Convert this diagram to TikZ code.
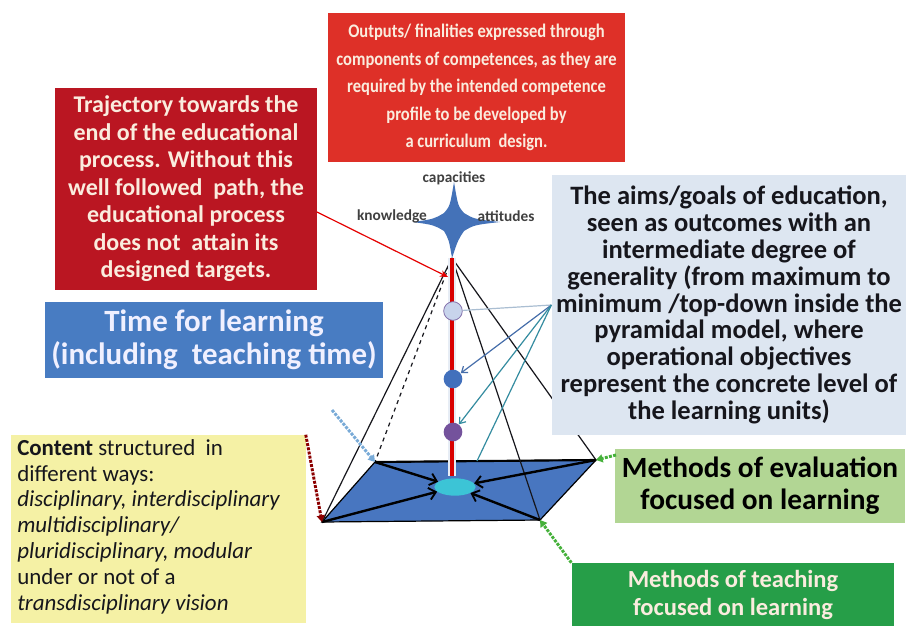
\documentclass[tikz,border=0pt]{standalone}
\usepackage{fontspec}
\setmainfont{Carlito}
\newfontfamily\narrowfont[FakeStretch=0.86]{Carlito}
\usetikzlibrary{arrows.meta,shapes.geometric,positioning}
\definecolor{redtop}{RGB}{222,48,40}
\definecolor{redtraj}{RGB}{186,22,34}
\definecolor{cream}{RGB}{250,236,222}
\definecolor{timeblue}{RGB}{72,124,194}
\definecolor{aimsblue}{RGB}{221,230,241}
\definecolor{contyellow}{RGB}{245,241,165}
\definecolor{evalgreen}{RGB}{178,214,148}
\definecolor{teachgreen}{RGB}{38,158,72}
\definecolor{baseblue}{RGB}{72,118,192}
\definecolor{starblue}{RGB}{68,114,184}
\definecolor{ellcyan}{RGB}{60,196,214}
\definecolor{aimline}{RGB}{52,140,160}
\definecolor{aimpale}{RGB}{170,190,210}
\definecolor{aimmid}{RGB}{70,110,170}
\definecolor{lvlone}{RGB}{200,212,236}
\definecolor{lvlonerim}{RGB}{130,110,170}
\definecolor{lvltwo}{RGB}{66,112,188}
\definecolor{lvlthree}{RGB}{116,82,156}
\definecolor{timedots}{RGB}{120,170,215}
\definecolor{ink}{RGB}{22,22,28}
\newcommand\setfs[2]{\fontsize{#1}{#2}\selectfont}

\begin{document}
\begin{tikzpicture}[x=0.75pt,y=-0.75pt,
  panel/.style={inner sep=0pt,align=center},
  rib/.style={line width=0.9pt,ink},
  hub/.style={-{Straight Barb[length=5pt,width=9pt,line width=1.4pt]},line width=1.8pt,black},
  dotlink/.style={densely dotted,line width=2.2pt,-{Triangle[length=5pt,width=6pt]}},
  aim/.style={line width=0.9pt,-{Straight Barb[length=4pt,width=6pt]}},
  stage/.style={circle,inner sep=0pt,minimum size=14pt,line width=0.6pt},
  starlabel/.style={font=\setfs{11.5}{13}\bfseries,text=black!75}]
 \fill[white] (0,0) rectangle (911,626);
 \useasboundingbox (0,0) rectangle (911,626);
 % corners of the base and tip of the star
 \coordinate (bl) at (375,462);
 \coordinate (br) at (596,460);
 \coordinate (fr) at (540,520);
 \coordinate (fl) at (322,522);
 \coordinate (apex) at (452,258);
 \coordinate (star) at (454,220);
 % base
 \draw[fill=baseblue,line width=0.9pt] (bl) -- (br) -- (fr) -- (fl) -- cycle;
 \draw[line width=1.6pt] (bl) -- (br);
 % pyramid edges
 \draw[rib] (apex) -- (fl);
 \draw[rib,dashed] (apex) -- (bl);
 \draw[rib] (apex) -- (fr);
 \draw[rib] (apex) -- (br);
 % centre of the base
 \node[ellipse,fill=ellcyan,minimum width=31pt,minimum height=13pt,inner sep=0pt] (ell) at (455,487) {};
 \draw[hub] (bl) -- (ell);
 \draw[hub] (fl) -- (ell);
 \draw[hub] (fr) -- (ell);
 \draw[hub] (br) -- (ell);
 % vertical axis
 \coordinate (axisend) at (452,476);
 \draw[line width=6pt,aimsblue!70] (apex) -- (axisend);
 \draw[line width=2.6pt,red!85!black] (apex) -- (axisend);
 % levels on the axis
 \node[stage,fill=lvlone,draw=lvlonerim] (c1) at (453,311) {};
 \node[stage,fill=lvltwo] (c2) at (453,379) {};
 \node[stage,fill=lvlthree] (c3) at (453,432) {};
 % star of competences
 \fill[starblue,shift={(star)}] (0,-38) .. controls (4,-14) .. (10,-7) .. controls (20,-1) .. (46,2)
   .. controls (20,5) .. (10,11) .. controls (4,20) .. (-2,38)
   .. controls (-5,20) .. (-10,11) .. controls (-20,5) .. (-41,2)
   .. controls (-20,-1) .. (-10,-7) .. controls (-4,-14) .. cycle;
 \node[starlabel] (capl) at (454,178) {capacities};
 \node[starlabel] (knowl) at (392,216) {knowledge};
 \node[starlabel] (attl) at (506,216) {attitudes};
 % text panels
 \node[panel,fill=redtop,text=cream,minimum width=222.75pt,minimum height=111.75pt,
   font=\narrowfont\setfs{14.4}{20.6}\bfseries] (outp) at (476.5,87.5)
   {Outputs/ finalities expressed through\\components of competences, as they are\\required by the intended competence\\profile to be developed by\\a curriculum~~design.};
 \node[panel,fill=redtraj,text=cream,minimum width=196pt,minimum height=151.5pt,
   font=\setfs{18}{20.6}\bfseries] (traj) at (186,189)
   {Trajectory towards the\\end of the educational\\process. Without this\\well followed~~path, the\\educational process\\does not~~attain its\\designed targets.};
 \node[panel,fill=timeblue,text=white!94!blue,minimum width=253.5pt,minimum height=57pt,
   font=\setfs{23.2}{24.5}\bfseries] (time) at (214,340)
   {Time for learning\\(including~~teaching time)};
 \node[panel,fill=aimsblue,text=ink,minimum width=266pt,minimum height=195pt,
   font=\setfs{19.9}{20.1}\bfseries] (aims) at (729,305)
   {The aims/goals of education,\\seen as outcomes with an\\intermediate degree of\\generality (from maximum to\\minimum /top-down inside the\\pyramidal model, where\\operational objectives\\represent the concrete level of\\the learning units)};
 \node[panel,fill=contyellow,minimum width=221.25pt,minimum height=141pt] (cont) at (158,529) {};
 \node[inner sep=0pt,align=left,anchor=north west,text=ink,font=\setfs{17.2}{19.4}] (conttext) at (17,439)
   {\textbf{Content} structured~ in\\different ways:\\\textit{disciplinary, interdisciplinary}\\\textit{multidisciplinary/}\\\textit{pluridisciplinary, modular}\\under or not of a\\\textit{transdisciplinary vision}};
 \node[panel,fill=evalgreen,text=black,minimum width=217.5pt,minimum height=56pt,
   font=\setfs{22}{24}\bfseries] (eval) at (760,486)
   {Methods of evaluation\\focused on learning};
 \node[panel,fill=teachgreen,text=cream,minimum width=242pt,minimum height=47.25pt,
   font=\setfs{18.4}{21}\bfseries] (teach) at (733,594.5)
   {Methods of teaching\\focused on learning};
 % links from the panels
 \coordinate (trajout) at (317,212);
 \coordinate (redhit) at (448,277);
 \draw[red!90!black,line width=0.9pt,-{Stealth[length=6pt,width=5pt]}] (trajout) -- (redhit);
 \coordinate (backhit) at (477,461);
 \draw[line width=0.9pt,aimpale] (aims.west) -- (c1);
 \draw[aim,aimmid] (aims.west) -- (c2);
 \draw[aim,aimline] (aims.west) -- (c3);
 \draw[line width=0.9pt,aimline] (aims.west) -- (backhit);
 \coordinate (timeout) at (332,410);
 \draw[dotlink,timedots] (timeout) -- (bl);
 \draw[dotlink,red!55!black] (cont.north east) -- (fl);
 \coordinate (evalout) at (616,455);
 \draw[dotlink,teachgreen!80!lime] (evalout) -- (br);
 \draw[dotlink,teachgreen!80!lime] (teach.north west) -- (fr);
\end{tikzpicture}
\end{document}
